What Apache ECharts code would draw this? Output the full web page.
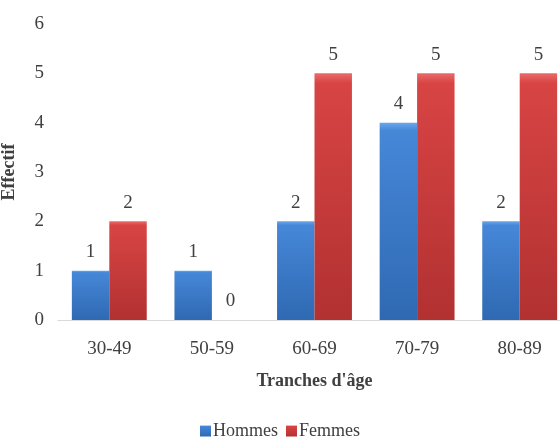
<!DOCTYPE html>
<html>
<head>
<meta charset="utf-8">
<script src="https://cdn.jsdelivr.net/npm/echarts@6/dist/echarts.min.js"></script>
<style>
  html, body { margin: 0; padding: 0; background: #ffffff; }
  #chart { width: 560px; height: 445px; }
</style>
</head>
<body>
<div id="chart"></div>
<script>
// Age groups and head counts per sex
const categories = ['30-49', '50-59', '60-69', '70-79', '80-89'];
const hommes = [1, 1, 2, 4, 2];
const femmes = [2, 0, 5, 5, 5];
const yTicks = [0, 1, 2, 3, 4, 5, 6];

const FONT = 'Liberation Serif, DejaVu Serif, serif';
const TXT = '#404040';

// Vertical shading: light top edge, slightly darker toward the base
function shade(top, upper, lower) {
  return new echarts.graphic.LinearGradient(0, 0, 0, 1, [
    { offset: 0, color: top },
    { offset: 0.04, color: upper },
    { offset: 1, color: lower }
  ]);
}

const chart = echarts.init(document.getElementById('chart'), null, { renderer: 'canvas' });

const labelStyle = {
  show: true,
  position: 'top',
  distance: 9,
  color: TXT,
  fontFamily: FONT,
  fontSize: 19
};

chart.setOption({
  animation: false,
  textStyle: { fontFamily: FONT },
  grid: { left: 58, right: -11, top: 24, bottom: 125, containLabel: false, outerBoundsMode: 'none' },
  legend: {
    bottom: 0,
    left: 'center',
    itemWidth: 11,
    itemHeight: 11,
    itemGap: 8,
    icon: 'rect',
    textStyle: { color: TXT, fontFamily: FONT, fontSize: 18, padding: [0, 0, 0, -3] },
    data: ['Hommes', 'Femmes']
  },
  xAxis: {
    type: 'category',
    data: categories,
    name: "Tranches d'âge",
    nameLocation: 'middle',
    nameGap: 52,
    nameTextStyle: { color: TXT, fontFamily: FONT, fontSize: 18, fontWeight: 'bold' },
    axisLine: { lineStyle: { color: '#d9d9d9', width: 1 } },
    axisTick: { show: false },
    axisLabel: { color: TXT, fontFamily: FONT, fontSize: 19, margin: 20 }
  },
  yAxis: {
    type: 'value',
    min: yTicks[0],
    max: yTicks[yTicks.length - 1],
    interval: 1,
    name: 'Effectif',
    nameLocation: 'middle',
    nameGap: 40,
    nameTextStyle: { color: TXT, fontFamily: FONT, fontSize: 18, fontWeight: 'bold' },
    axisLine: { show: false },
    axisTick: { show: false },
    splitLine: { show: false },
    axisLabel: { color: TXT, fontFamily: FONT, fontSize: 19, margin: 14 }
  },
  series: [
    {
      name: 'Hommes',
      type: 'bar',
      data: hommes,
      barGap: '0%',
      barCategoryGap: '27%',
      label: labelStyle,
      itemStyle: { color: shade('#6aa6ea', '#4687d8', '#2f69b2') }
    },
    {
      name: 'Femmes',
      type: 'bar',
      data: femmes,
      barGap: '0%',
      barCategoryGap: '27%',
      label: labelStyle,
      itemStyle: { color: shade('#ea6a6a', '#d84444', '#b23131') }
    }
  ]
});
</script>
</body>
</html>
